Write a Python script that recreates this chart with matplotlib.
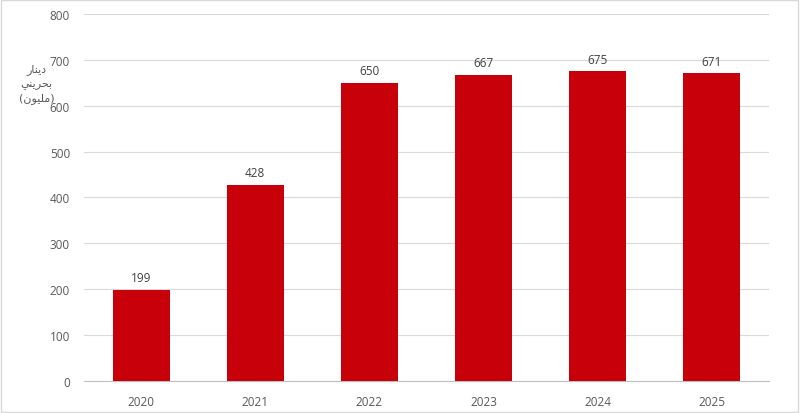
import matplotlib.pyplot as plt
from matplotlib.patches import Rectangle

years = ['2020', '2021', '2022', '2023', '2024', '2025']
values = [199, 428, 650, 667, 675, 671]
yticks = [0, 100, 200, 300, 400, 500, 600, 700, 800]
# "دينار بحريني (مليون)" written in shaped presentation forms, visual order
ylabel_lines = ['\uFEAD\uFE8E\uFEE8\uFEF3\uFEA9',
                '\uFEF2\uFEE8\uFEF3\uFEAE\uFEA4\uFE91',
                '(\uFEE5\uFEEE\uFEF4\uFEE0\uFEE3)']

plt.rcParams['font.family'] = ['Open Sans', 'DejaVu Sans']

fig = plt.figure(figsize=(8, 4.14), dpi=100)
ax = fig.add_axes([0.105, 0.0773, 0.856, 0.8865])

x = range(len(years))
bars = ax.bar(x, values, width=0.5, color='#C8000A', zorder=3)
for xi, v in zip(x, values):
    ax.text(xi, v + 12, str(v), ha='center', va='bottom', fontsize=8.5, color='#404040')

ax.set_xlim(-0.5, 5.5)
ax.set_ylim(0, 800)
ax.set_yticks(yticks)
ax.set_xticks(list(x))
ax.set_xticklabels(years)
ax.tick_params(axis='both', length=0, labelsize=8.5, labelcolor='#595959', pad=10)
ax.grid(axis='y', color='#D9D9D9', linewidth=0.8, zorder=0)
for s in ['top', 'right', 'left']:
    ax.spines[s].set_visible(False)
ax.spines['bottom'].set_color('#BFBFBF')

fig.text(0.046, 0.797, '\n'.join(ylabel_lines), ha='center', va='center',
         fontsize=8, color='#595959', family='DejaVu Sans', linespacing=1.45)

fig.patches.append(Rectangle((0.001, 0.002), 0.997, 0.995, transform=fig.transFigure,
                             fill=False, edgecolor='#D9D9D9', linewidth=1))

plt.savefig('out.png')
